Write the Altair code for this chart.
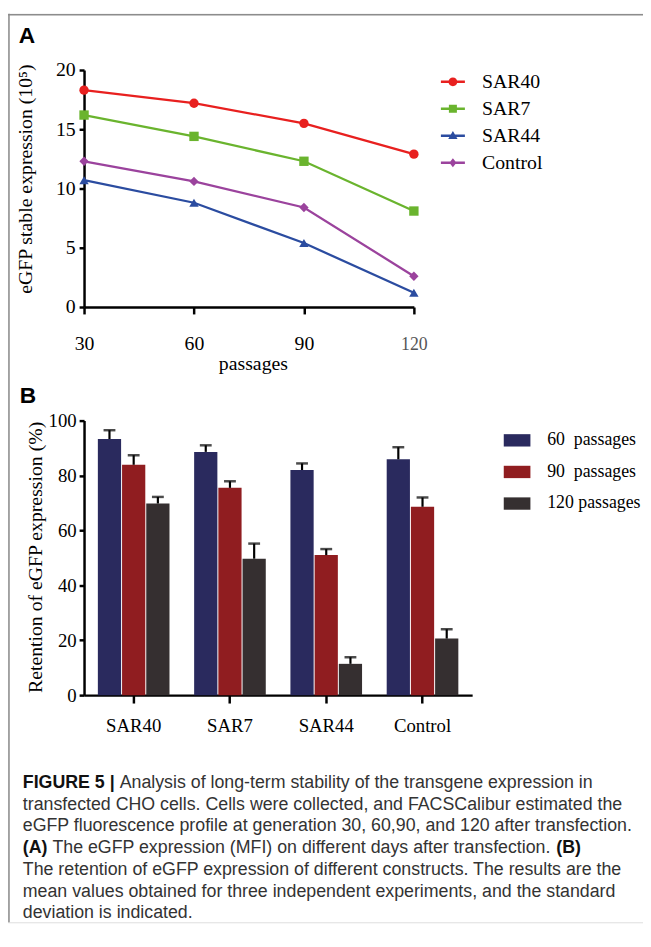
import altair as alt
import pandas as pd

# ---------------- Panel A data ----------------
passages = [30, 60, 90, 120]
series_names = ["SAR40", "SAR7", "SAR44", "Control"]
sar40 = [18.3, 17.2, 15.5, 12.9]
sar7 = [16.2, 14.4, 12.3, 8.1]
sar44 = [10.7, 8.8, 5.4, 1.2]
control = [12.3, 10.6, 8.4, 2.6]
series_colors = ["#e8201f", "#6ab42e", "#2b4ca0", "#9b439d"]
series_shapes = ["circle", "square", "triangle-up", "diamond"]

# ---------------- Panel B data ----------------
constructs = ["SAR40", "SAR7", "SAR44", "Control"]
groups = ["60\u00a0\u00a0passages", "90\u00a0\u00a0passages", "120 passages"]
ret60 = [93.3, 88.6, 82.0, 85.9]
ret90 = [83.9, 75.5, 51.0, 68.6]
ret120 = [69.8, 49.7, 11.4, 20.6]
sd60 = [3.2, 2.4, 2.4, 4.4]
sd90 = [3.5, 2.4, 2.2, 3.4]
sd120 = [2.4, 5.5, 2.4, 3.4]
group_colors = ["#2a2a5e", "#901d20", "#352f30"]

caption_lines = [
    "transfected CHO cells. Cells were collected, and FACSCalibur estimated the",
    "eGFP fluorescence profile at generation 30, 60,90, and 120 after transfection.",
    "The retention of eGFP expression of different constructs. The results are the",
    "mean values obtained for three independent experiments, and the standard",
    "deviation is indicated.",
]

SERIF = "Liberation Serif"
SANS = "Liberation Sans"
W, H = 643, 920

# ---------------- tables ----------------
series_vals = [sar40, sar7, sar44, control]
dfA = pd.DataFrame({
    "passage": [p for _ in series_names for p in passages],
    "series": [s for s in series_names for _ in passages],
    "value": [v for vals in series_vals for v in vals],
})

rets = [ret60, ret90, ret120]
sds = [sd60, sd90, sd120]
rowsB = []
for gi, g in enumerate(groups):
    for ci, c in enumerate(constructs):
        rowsB.append({"construct": c, "group": g, "value": rets[gi][ci],
                      "top": rets[gi][ci] + sds[gi][ci]})
dfB = pd.DataFrame(rowsB)

ax = dict(domainColor="black", domainWidth=2.5, tickColor="black", tickWidth=2.5,
          labelFont=SERIF, titleFont=SERIF, titleColor="black",
          titleFontWeight="normal", grid=False, labelFlush=False)

# ---------------- Panel A ----------------
xA_scale = alt.Scale(domain=[30, 120], range=[77, 411], nice=False, zero=False)
yA_scale = alt.Scale(domain=[0, 20], range=[297, 57], nice=False)
colA = alt.Scale(domain=series_names, range=series_colors)

xA_axis = alt.Axis(orient="bottom", offset=297 - H, values=passages, tickSize=7,
                   labelFontSize={"condition": {"test": "datum.value == 120", "value": 18}, "value": 20},
                   labelColor={"condition": {"test": "datum.value == 120", "value": "#555555"}, "value": "black"},
                   labelPadding=36, labelBaseline="alphabetic",
                   title="passages", titleFontSize=20, titleX=248, titleY=63,
                   titleBaseline="alphabetic", **ax)
yA_axis = alt.Axis(orient="left", offset=-77, values=[0, 5, 10, 15, 20], tickSize=5,
                   labelFontSize=20, labelPadding=4, labelColor="black",
                   title="eGFP stable expression (10\u2075)", titleFontSize=20,
                   titleX=-53, titleY=167, titleBaseline="alphabetic", titleAngle=270, **ax)

encA = dict(
    x=alt.X("passage:Q", scale=xA_scale, axis=xA_axis),
    y=alt.Y("value:Q", scale=yA_scale, axis=yA_axis),
)

lines = alt.Chart(dfA).mark_line(strokeWidth=2.3).encode(
    color=alt.Color("series:N", scale=colA, legend=None), **encA,
)
points = alt.Chart(dfA).mark_point(filled=True, size=90, opacity=1).encode(
    color=alt.Color("series:N", scale=colA, legend=None),
    shape=alt.Shape("series:N", scale=alt.Scale(domain=series_names, range=series_shapes), legend=None),
    **encA,
)

bar_line = "M-2.7,-0.28H2.7V0.28H-2.7Z "
legend_paths = [
    bar_line + "M1,0A1,1,0,1,1,-1,0A1,1,0,1,1,1,0Z",
    bar_line + "M-0.9,-0.9H0.9V0.9H-0.9Z",
    bar_line + "M0,-1.1L1.05,0.75H-1.05Z",
    bar_line + "M0,-1L0.8,0L0,1L-0.8,0Z",
]
legA = alt.Legend(orient="none", legendX=440.5, legendY=59, title=None, symbolSize=81,
                  symbolStrokeWidth=0, symbolOpacity=1, labelFont=SERIF, labelFontSize=20,
                  labelColor="black", labelOffset=19.5, rowPadding=7.3, padding=0)
legend_layer = alt.Chart(dfA).mark_point(filled=True, opacity=0).encode(
    color=alt.Color("series:N", scale=colA, legend=legA),
    shape=alt.Shape("series:N", scale=alt.Scale(domain=series_names, range=legend_paths), legend=legA),
    **encA,
)

panelA = alt.layer(lines, points, legend_layer).resolve_scale(color="independent", shape="independent")

# ---------------- Panel B ----------------
xB_scale = alt.Scale(domain=constructs, range=[77, 470], paddingInner=0.256, paddingOuter=0.1435)
yB_scale = alt.Scale(domain=[0, 100], range=[690, 412], nice=False)
offB = alt.Scale(domain=groups, paddingInner=0.04)
colB = alt.Scale(domain=groups, range=group_colors)

xB_axis = alt.Axis(orient="bottom", offset=690 - H, tickSize=8, labelFontSize=19, labelColor="black",
                   labelPadding=29, labelBaseline="alphabetic", labelAngle=0, title=None, **ax)
yB_axis = alt.Axis(orient="left", offset=-77, values=[0, 20, 40, 60, 80, 100], tickSize=5,
                   labelFontSize=19, labelPadding=3, labelColor="black",
                   title="Retention of eGFP expression (%)", titleFontSize=20,
                   titleX=-43, titleY=550, titleBaseline="alphabetic", titleAngle=270, **ax)
legB = alt.Legend(orient="none", legendX=502, legendY=418.5, title=None,
                  symbolType="M-1,-0.463H1V0.463H-1Z", symbolSize=729, symbolStrokeWidth=0,
                  labelFont=SERIF, labelFontSize=18, labelColor="black", labelOffset=17,
                  rowPadding=9, padding=0)

xB = alt.X("construct:N", sort=constructs, scale=xB_scale, axis=xB_axis)
xoB = alt.XOffset("group:N", sort=groups, scale=offB)

bars = alt.Chart(dfB).mark_bar().encode(
    x=xB, xOffset=xoB,
    y=alt.Y("value:Q", scale=yB_scale, axis=yB_axis),
    color=alt.Color("group:N", scale=colB, legend=legB),
)
err = alt.Chart(dfB).mark_rule(color="black", strokeWidth=2.2).encode(
    x=xB, xOffset=xoB,
    y=alt.Y("value:Q", scale=yB_scale, axis=yB_axis),
    y2="top:Q",
)
caps = alt.Chart(dfB).mark_tick(color="black", thickness=2.5, size=12).encode(
    x=xB, xOffset=xoB,
    y=alt.Y("top:Q", scale=yB_scale, axis=yB_axis),
)
panelB = alt.layer(bars, err, caps)

# ---------------- decorations ----------------
one = pd.DataFrame({"k": [0]})
frame_top = alt.Chart(one).mark_rule(color="#8c8c8c", strokeWidth=1.5).encode(
    x=alt.value(0), x2=alt.value(W), y=alt.value(1))
frame_left = alt.Chart(one).mark_rule(color="#8c8c8c", strokeWidth=1.5).encode(
    x=alt.value(1), y=alt.value(0), y2=alt.value(H))


def txt(s, x, y, size, bold=False, font=SANS, color="#333333"):
    return alt.Chart(pd.DataFrame({"t": [s]})).mark_text(
        align="left", baseline="middle", font=font, fontSize=size,
        fontWeight="bold" if bold else "normal", color=color,
    ).encode(x=alt.value(x), y=alt.value(y), text="t:N")


labA = txt("A", 11, 23, 23, bold=True, color="black")
labB = txt("B", 12, 387, 23, bold=True, color="black")

CX, CY, DY, CF = 15, 779, 22, 18.0
cap = [
    txt("FIGURE 5 |", CX, CY, CF, bold=True, color="#111111"),
    txt("Analysis of long-term stability of the transgene expression in", CX + 5.448 * CF, CY, CF),
    txt(caption_lines[0], CX, CY + DY, CF),
    txt(caption_lines[1], CX, CY + 2 * DY, CF),
    txt("(A)", CX, CY + 3 * DY, CF, bold=True, color="#111111"),
    txt("The eGFP expression (MFI) on different days after transfection.", CX + 1.666 * CF, CY + 3 * DY, CF),
    txt("(B)", CX + 30.01 * CF, CY + 3 * DY, CF, bold=True, color="#111111"),
    txt(caption_lines[2], CX, CY + 4 * DY, CF),
    txt(caption_lines[3], CX, CY + 5 * DY, CF),
    txt(caption_lines[4], CX, CY + 6 * DY, CF),
]

chart = alt.layer(frame_top, frame_left, labA, labB, panelA, panelB, *cap).resolve_scale(
    x="independent", y="independent", color="independent", shape="independent",
    xOffset="independent",
).properties(
    width=W, height=H, autosize=alt.AutoSizeParams(type="none"), padding=0,
).configure_view(stroke=None).configure(background="white")

chart.save("out.html", embed_options={"renderer": "svg", "actions": False})
